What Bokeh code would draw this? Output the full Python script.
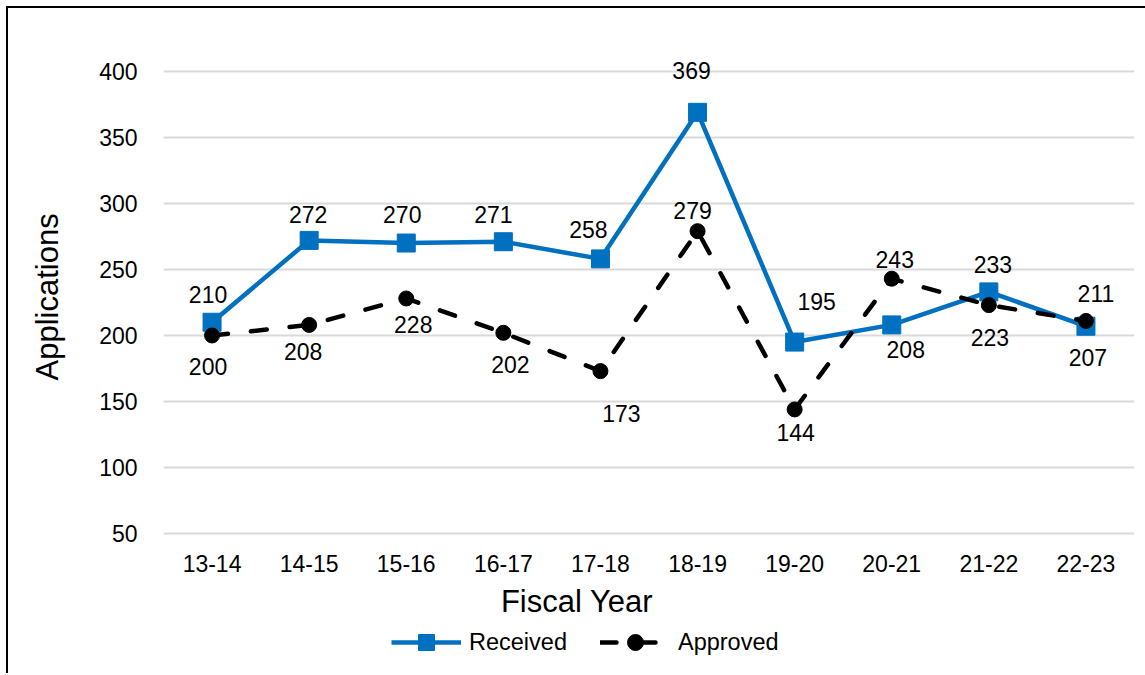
from bokeh.plotting import figure
from bokeh.models import (ColumnDataSource, FactorRange, Range1d, Legend,
                          LegendItem, Title, Label, FixedTicker)
from bokeh.embed import file_html
from bokeh.resources import INLINE
from bokeh.core.properties import value

# ---- data ---------------------------------------------------------------
years = ["13-14", "14-15", "15-16", "16-17", "17-18",
         "18-19", "19-20", "20-21", "21-22", "22-23"]
received = [210, 272, 270, 271, 258, 369, 195, 208, 233, 207]
approved = [200, 208, 228, 202, 173, 279, 144, 243, 223, 211]
y_ticks = [50, 100, 150, 200, 250, 300, 350, 400]

# pixel nudges for the value labels (dx right, dy down)
recv_dx = [-4, -1, -4, -10, -12, -6, 22, 14, 4, 2]
recv_dy = [-28, -26, -29, -27, -29, -42, -41, 25, -27, 31]
appr_dx = [-4, -6, 7, 7, 21, -5, 1, 3, 1, 10]
appr_dy = [31, 27, 26, 32, 42, -21, 23, -19, 32, -27]

FONT = "Liberation Sans"
BLUE = "#0070C0"

src = ColumnDataSource(dict(
    year=years,
    received=received,
    approved=approved,
    recv_txt=[str(v) for v in received],
    appr_txt=[str(v) for v in approved],
    recv_dx=recv_dx, recv_dy=recv_dy,
    appr_dx=appr_dx, appr_dy=appr_dy,
))

# The plot area reaches down below the value axis so that the axis title
# and the legend can sit inside it; the category axis is pinned at y=50.
p = figure(
    x_range=FactorRange(*years),
    y_range=Range1d(-56.0, 409),
    frame_width=971, frame_height=614,
    min_border_left=155, min_border_right=11,
    min_border_top=51, min_border_bottom=0,
    output_backend="svg", toolbar_location=None,
    background_fill_color="white", border_fill_color="white",
)
p.styles = {
    "margin-left": "6px", "margin-top": "6px",
    "border-left": "2px solid black", "border-top": "2px solid black",
}
p.outline_line_color = None

# ---- axes & grid --------------------------------------------------------
for ax in (p.xaxis[0], p.yaxis[0]):
    ax.axis_line_color = None
    ax.major_tick_line_color = None
    ax.minor_tick_line_color = None
    ax.major_label_text_font = FONT
    ax.major_label_text_font_size = "23px"
    ax.major_label_text_color = "black"
p.yaxis.ticker = FixedTicker(ticks=y_ticks)
p.yaxis.major_label_standoff = 20
p.xaxis.fixed_location = 50
p.xaxis.major_label_standoff = 15
p.xgrid.grid_line_color = None
p.ygrid.ticker = FixedTicker(ticks=y_ticks)
p.ygrid.grid_line_color = "#D9D9D9"
p.ygrid.grid_line_width = 2

# ---- series -------------------------------------------------------------
r_line = p.line("year", "received", source=src, line_color=BLUE, line_width=4.5)
r_mark = p.scatter("year", "received", source=src, marker="square", size=18,
                   fill_color=BLUE, line_color=BLUE)
a_line = p.line("year", "approved", source=src, line_color="black",
                line_width=4.5, line_dash="16 23", line_cap="round")
a_mark = p.scatter("year", "approved", source=src, marker="circle", size=15,
                   fill_color="black", line_color="black")

common = dict(text_font=value(FONT), text_font_size="23px", text_color="black",
              text_align="center", text_baseline="middle")
p.text("year", "received", text="recv_txt", x_offset="recv_dx",
       y_offset="recv_dy", source=src, **common)
p.text("year", "approved", text="appr_txt", x_offset="appr_dx",
       y_offset="appr_dy", source=src, **common)

# ---- axis titles --------------------------------------------------------
p.add_layout(Label(x=413.5, y=72, x_units="screen", y_units="screen",
                   text="Fiscal Year", text_align="center",
                   text_baseline="middle", text_font=FONT,
                   text_font_size="31px", text_color="black"))
# thin gap between the value labels and the vertical title
p.add_layout(Title(text=" ", text_font_size="1px", standoff=26), "left")
p.add_layout(Title(text="Applications", align="left", offset=293,
                   text_font=FONT, text_font_size="31px",
                   text_font_style="normal", text_color="black",
                   standoff=6), "left")

# ---- legend -------------------------------------------------------------
legend = Legend(
    items=[LegendItem(label="Received", renderers=[r_line, r_mark]),
           LegendItem(label="Approved", renderers=[a_line, a_mark])],
    location=(228, 11), orientation="horizontal",
    label_text_font=FONT, label_text_font_size="23.5px",
    label_text_color="black",
    glyph_width=70, glyph_height=40, label_standoff=8, spacing=33,
    padding=5, margin=0, border_line_color=None, background_fill_alpha=0,
)
p.add_layout(legend, "center")

open("out.html", "w").write(file_html(p, INLINE))
